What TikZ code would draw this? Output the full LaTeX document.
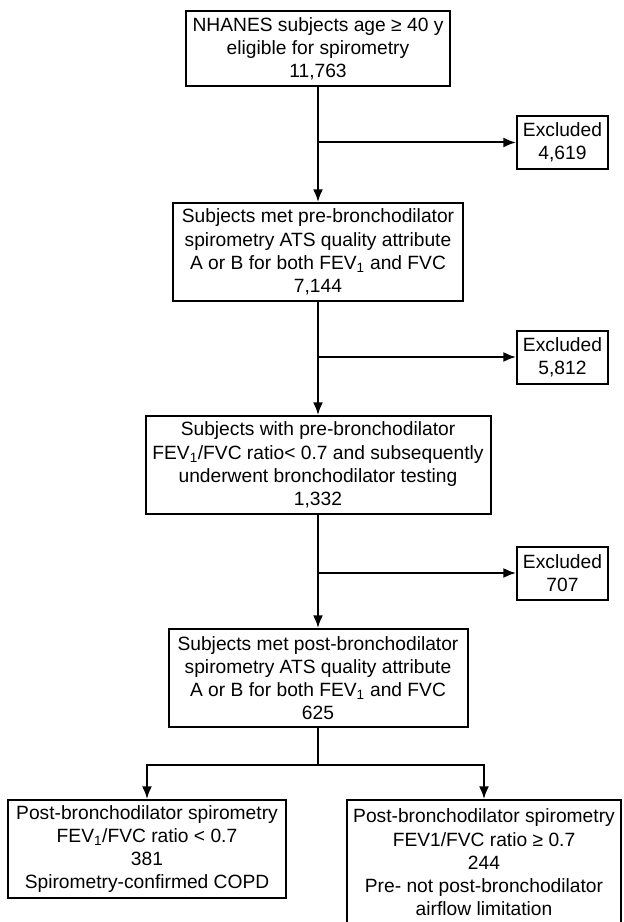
\documentclass[tikz,border=0pt]{standalone}
\usepackage{fontspec}
\setmainfont{Liberation Sans}
\usetikzlibrary{arrows.meta,positioning,shapes}

\begin{document}
\begin{tikzpicture}[every text node part/.style={align=center},
        box/.style={draw,rectangle,line width=0.06cm,inner sep=2pt,font=\fontsize{16.4}{19.8}\selectfont},
        flow/.style={draw,line width=0.06cm,-{Latex[length=0.38cm,width=0.3cm]}}]
        \useasboundingbox (0,0) rectangle (18.69,-27.66);

        \node[box,minimum height=2.25cm, minimum width=7.92cm] (nhanes) at (9.54,-1.455) {NHANES subjects age ≥ 40 y\\eligible for spirometry\\11,763};
        \node[box,minimum height=2.94cm, minimum width=8.7cm] (prebd) at (9.54,-7.56) {Subjects met pre-bronchodilator\\spirometry ATS quality attribute\\A or B for both FEV\textsubscript{1} and FVC\\7,144};
        \node[box,minimum height=2.94cm, minimum width=10.35cm] (ratio) at (9.54,-13.95) {Subjects with pre-bronchodilator\\FEV\textsubscript{1}/FVC ratio< 0.7 and subsequently\\underwent bronchodilator testing\\1,332};
        \node[box,minimum height=2.94cm, minimum width=8.97cm] (postbd) at (9.54,-20.34) {Subjects met post-bronchodilator\\spirometry ATS quality attribute\\A or B for both FEV\textsubscript{1} and FVC\\625};

        \node[box,minimum height=1.59cm, minimum width=2.73cm] (excl1) at (16.875,-4.275) {Excluded\\4,619};
        \node[box,minimum height=1.59cm, minimum width=2.73cm] (excl2) at (16.875,-10.71) {Excluded\\5,812};
        \node[box,minimum height=1.59cm, minimum width=2.73cm] (excl3) at (16.875,-17.19) {Excluded\\707};

        \node[box,minimum height=2.94cm, minimum width=8.34cm] (copd) at (4.41,-25.47) {Post-bronchodilator spirometry\\FEV\textsubscript{1}/FVC ratio < 0.7\\381\\Spirometry-confirmed COPD};
        \node[box,minimum height=3.75cm, minimum width=8.22cm] (prenot) at (14.52,-25.875) {Post-bronchodilator spirometry\\FEV1/FVC ratio ≥ 0.7\\244\\Pre- not post-bronchodilator\\airflow limitation};

        \coordinate (split) at (9.54,-22.95);

        \path[flow] (nhanes) -- (prebd);
        \path[flow] (prebd) -- (ratio);
        \path[flow] (ratio) -- (postbd);
        \path[flow] (nhanes.south |- excl1.west) -- (excl1.west);
        \path[flow] (prebd.south |- excl2.west) -- (excl2.west);
        \path[flow] (ratio.south |- excl3.west) -- (excl3.west);
        \path[draw,line width=0.06cm] (postbd) -- (split);
        \path[flow] (split) -| (copd.north);
        \path[flow] (split) -| (prenot.north);
\end{tikzpicture}
\end{document}
